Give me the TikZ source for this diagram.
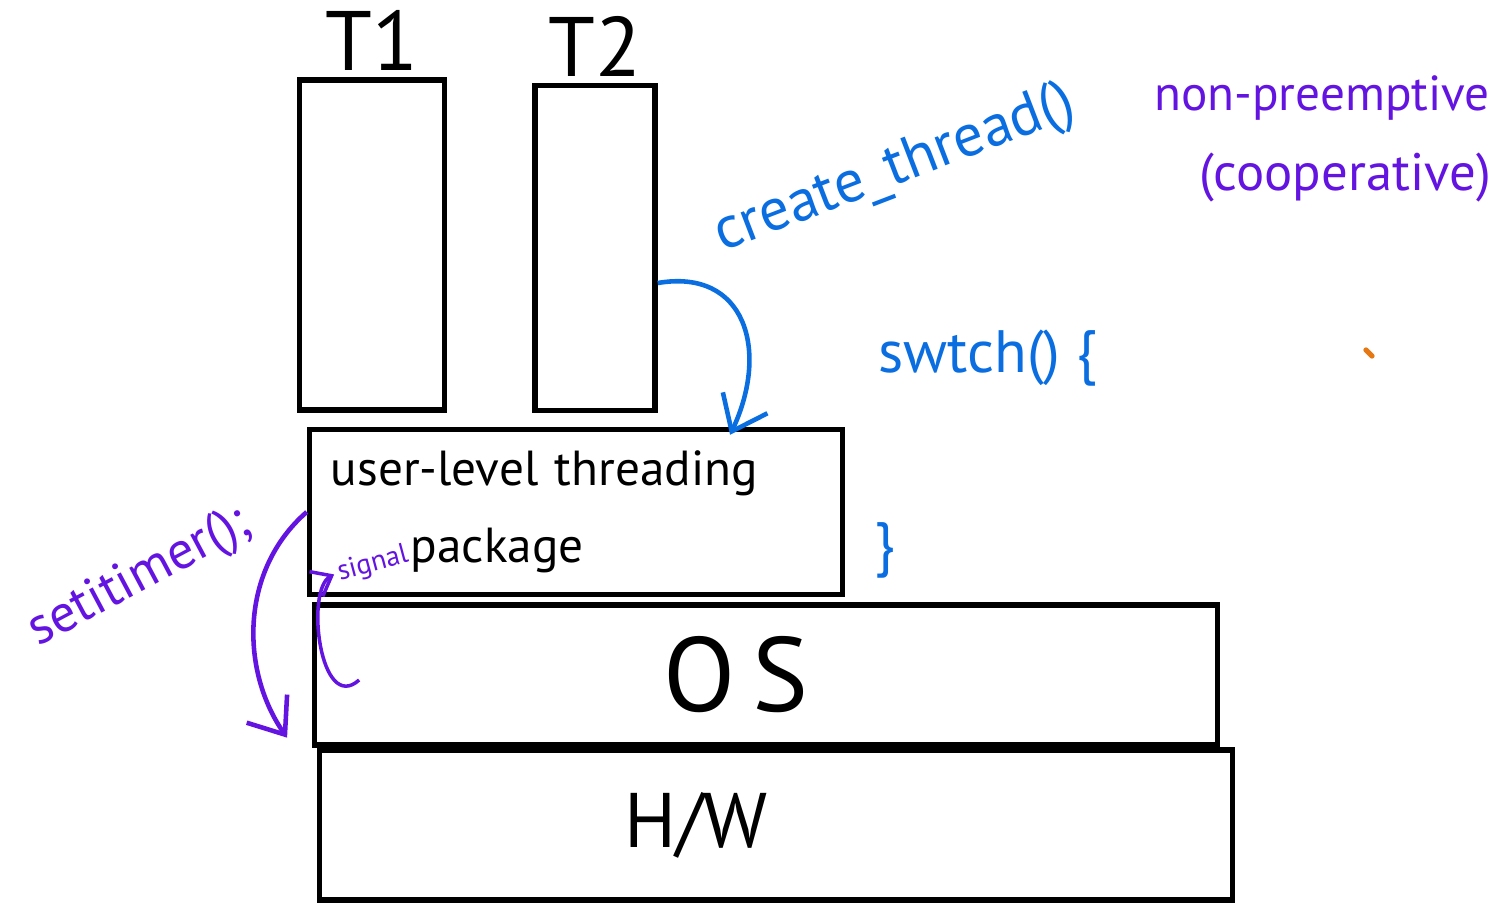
\documentclass[tikz,border=0pt]{standalone}
\usepackage{fontspec}
\setmainfont{PT Sans}
\usepackage{tikz}
\usetikzlibrary{arrows.meta}

\definecolor{blueink}{RGB}{10,110,225}
\definecolor{purpleink}{RGB}{100,20,225}
\definecolor{orangeink}{RGB}{230,120,20}

\tikzset{
  layer/.style={draw, line width=1.5pt, inner sep=0pt},
  blue note/.style={text=blueink, font=\fontsize{17}{20}\selectfont},
  purple note/.style={text=purpleink, font=\fontsize{15}{18}\selectfont},
  ink arrow/.style={line width=1.3pt, -{Straight Barb[length=9pt,width=14pt]}}
}

\begin{document}
\begin{tikzpicture}[x=0.01cm, y=-0.01cm]
\useasboundingbox (0,0) rectangle (1508,912);

% threads
\node [layer, minimum width=1.45cm, minimum height=3.30cm] (t1) at (372,245) {};
\node [layer, minimum width=1.20cm, minimum height=3.25cm] (t2) at (595,248) {};
\node [font=\fontsize{24}{28}\selectfont] (t1label) at (372,40) {T1};
\node [font=\fontsize{24}{28}\selectfont] (t2label) at (595,46) {T2};

% layers
\node [layer, minimum width=5.33cm, minimum height=1.65cm, text width=4.9cm, align=left,
       font=\fontsize{14}{22}\selectfont] (pkg) at (576,512)
      {user-level threading\\\hspace*{0.8cm}package};
\node [layer, minimum width=9.02cm, minimum height=1.40cm,
       font=\fontsize{30}{34}\selectfont] (os) at (766,675) {O\,S\hspace*{0.6cm}};
\node [layer, minimum width=9.12cm, minimum height=1.50cm,
       font=\fontsize{22}{26}\selectfont] (hw) at (776,825) {H/W\hspace*{1.6cm}};

% blue notes
\node [blue note, rotate=21] (create) at (895,170) {create\_thread()};
\node [blue note] (swtch) at (988,358) {swtch() \{};
\node [blue note] (close) at (885,550) {\}};

\draw [blueink, ink arrow] ([yshift=-0.35cm]t2.east)
    .. controls (745,268) and (770,350) .. ([xshift=1.54cm,yshift=-0.08cm]pkg.north);

% purple notes
\node [purple note, font=\fontsize{14}{17}\selectfont] (nonpre) at (1322,98) {non-preemptive};
\node [purple note] (coop) at (1345,178) {(cooperative)};
\node [purple note, rotate=28] (timer) at (140,578) {setitimer();};
\node [text=purpleink, font=\fontsize{8}{9}\selectfont, rotate=15, inner sep=1pt] (signal) at (373,564) {signal};

\draw [purpleink, ink arrow] (pkg.west)
    .. controls (240,570) and (240,670) .. ([xshift=-0.25cm,yshift=0.1cm]os.south west);
\draw [purpleink, line width=1pt, -{Straight Barb[length=5pt,width=8pt]}]
    ([xshift=0.47cm,yshift=-0.05cm]os.west) .. controls (320,715) and (305,590) .. (signal.west);

% stray mark
\draw [orangeink, line width=1.5pt, line cap=round] (1366,350) -- (1372,356);

\end{tikzpicture}
\end{document}
